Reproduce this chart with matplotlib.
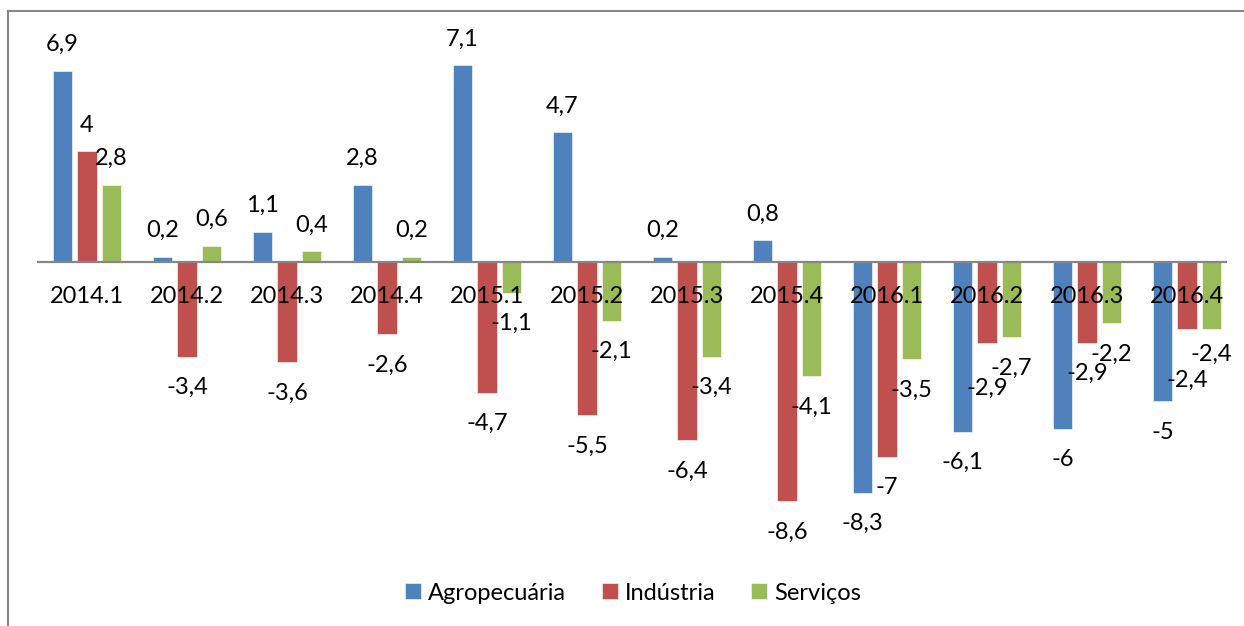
import matplotlib
matplotlib.use("Agg")
import matplotlib.pyplot as plt
from matplotlib.lines import Line2D
import numpy as np

plt.rcParams['font.family'] = ['Lato', 'DejaVu Sans']

categories = ["2014.1", "2014.2", "2014.3", "2014.4", "2015.1", "2015.2",
              "2015.3", "2015.4", "2016.1", "2016.2", "2016.3", "2016.4"]
agro = [6.9, 0.2, 1.1, 2.8, 7.1, 4.7, 0.2, 0.8, -8.3, -6.1, -6, -5]
industria = [4, -3.4, -3.6, -2.6, -4.7, -5.5, -6.4, -8.6, -7, -2.9, -2.9, -2.4]
servicos = [2.8, 0.6, 0.4, 0.2, -1.1, -2.1, -3.4, -4.1, -3.5, -2.7, -2.2, -2.4]
series_names = ["Agropecuária", "Indústria", "Serviços"]
colors = ["#4F81BD", "#C0504D", "#9BBB59"]

# label nudges (in pixels) where the original chart moved labels apart: (series, category) -> dy
label_nudge = {(1, 9): -15, (1, 11): -20, (2, 11): 6}

W, H = 1244, 626
fig = plt.figure(figsize=(W / 100, H / 100), dpi=100)
ax_left, ax_right = 37, 1227
y_top, y_bot = 12.55, 539.8
ax = fig.add_axes([ax_left / W, (H - y_bot) / H, (ax_right - ax_left) / W, (y_bot - y_top) / H])
ax.set_xlim(-0.5, 11.4)
ax.set_ylim(-10, 9)

fs = 17
x = np.arange(len(categories))
offsets = [-0.245, 0, 0.245]
width = 0.195

def fmt(v):
    s = ("%g" % v)
    return s.replace('.', ',')

for si, (vals, off, col, name) in enumerate(zip([agro, industria, servicos], offsets, colors, series_names)):
    ax.bar(x + off, vals, width=width, color=col, label=name, zorder=2,
           edgecolor='white', linewidth=0.4)
    for ci, (xi, v) in enumerate(zip(x + off, vals)):
        dy_px = 26 if v >= 0 else -31
        dy_px += label_nudge.get((si, ci), 0)
        ax.annotate(fmt(v), (xi, v), xytext=(0, dy_px * 0.72), textcoords='offset points',
                    ha='center', va='center', fontsize=fs, color='black', zorder=4)

ax.axhline(0, color='#868686', linewidth=1.6, zorder=3)
for xi, c in zip(x, categories):
    ax.annotate(c, (xi, 0), xytext=(0, -24.5), textcoords='offset points',
                ha='center', va='center', fontsize=fs, color='black', zorder=5)

ax.axis('off')

# outer border (left and top)
fig.add_artist(Line2D([8 / W, 8 / W], [0, 1 - 11 / H], transform=fig.transFigure,
                      color='#868686', linewidth=1.5))
fig.add_artist(Line2D([8 / W, 1], [1 - 11 / H, 1 - 11 / H], transform=fig.transFigure,
                      color='#868686', linewidth=1.5))

fig.legend(loc='center', bbox_to_anchor=(633 / W, 1 - 593 / H), ncol=3,
           frameon=False, fontsize=fs, handlelength=0.68, handleheight=0.68,
           handletextpad=0.3, columnspacing=1.5, borderpad=0)

fig.savefig("out.png", dpi=100)
